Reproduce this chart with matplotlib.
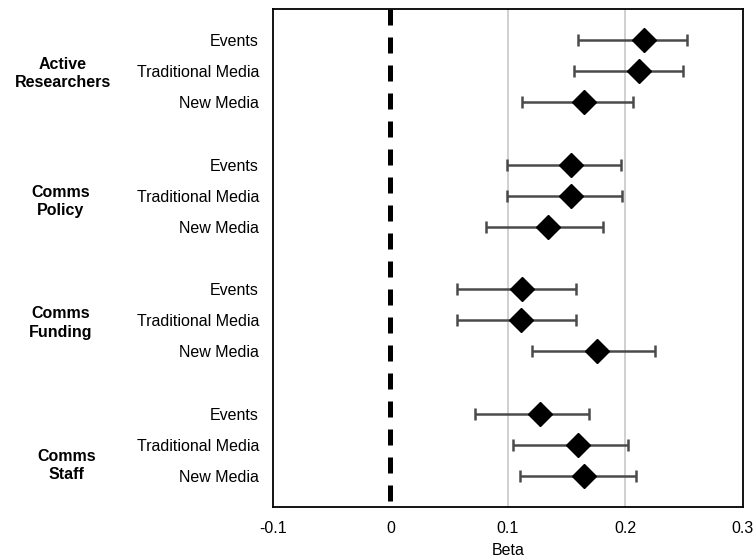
import numpy as np
import matplotlib
matplotlib.use("Agg")
import matplotlib.pyplot as plt

plt.rcParams['font.family'] = ['Liberation Sans', 'DejaVu Sans']

groups = ["Active\nResearchers", "Comms\nPolicy", "Comms\nFunding", "Comms\nStaff"]
channels = ["Events", "Traditional Media", "New Media"]

beta = [0.216, 0.212, 0.165,
        0.154, 0.154, 0.134,
        0.112, 0.111, 0.176,
        0.127, 0.160, 0.165]
lower = [0.160, 0.156, 0.112,
         0.099, 0.099, 0.081,
         0.057, 0.057, 0.121,
         0.072, 0.104, 0.110]
upper = [0.253, 0.249, 0.207,
         0.196, 0.197, 0.181,
         0.158, 0.158, 0.225,
         0.169, 0.202, 0.209]

xticks = [-0.1, 0, 0.1, 0.2, 0.3]
xticklabels = ["-0.1", "0", "0.1", "0.2", "0.3"]

# rows: 3 per group, one empty row between groups
ypos = []
for g in range(len(groups)):
    for c in range(len(channels)):
        ypos.append(g * 4 + c)
ypos = np.array(ypos)

beta = np.array(beta)
err = np.array([beta - np.array(lower), np.array(upper) - beta])

fig = plt.figure(figsize=(7.54, 5.58), dpi=100)
ax = fig.add_axes([0.362, 0.0914, 0.623, 0.8925])

for gx in [0.1, 0.2]:
    ax.axvline(gx, color="#c8c8c8", lw=1.2, zorder=0)
# dashed zero line, drawn from the top down
ax.plot([0, 0], [-1, 15], color="black", lw=3.6, ls=(0, (3.2, 2.4)), zorder=1)

ax.errorbar(beta, ypos, xerr=err, fmt="D", color="black", ms=12,
            ecolor="#4a4a4a", elinewidth=1.8, capsize=4, capthick=1.8, zorder=3)

ax.set_xlim(-0.1, 0.3)
ax.set_ylim(15, -1)
ax.set_xticks(xticks)
ax.set_xticklabels(xticklabels, fontsize=11.5)
ax.set_yticks(ypos)
ax.set_yticklabels(channels * len(groups), fontsize=11.5)
ax.tick_params(length=0, pad=10)
ax.tick_params(axis="x", pad=10)
ax.set_xlabel("Beta", fontsize=11.5, labelpad=5)
for s in ax.spines.values():
    s.set_linewidth(1.3)

# group labels sit left of the channel labels, not all at the same spot
label_x = [-0.279, -0.281, -0.281, -0.276]
label_dy = [1.07, 1.19, 1.08, 1.67]
for g, name in enumerate(groups):
    ax.text(label_x[g], g * 4 + label_dy[g], name, ha="center", va="center",
            fontsize=11.5, fontweight="bold", linespacing=1.3,
            transform=ax.transData, clip_on=False)

fig.savefig("out.png", dpi=100)
